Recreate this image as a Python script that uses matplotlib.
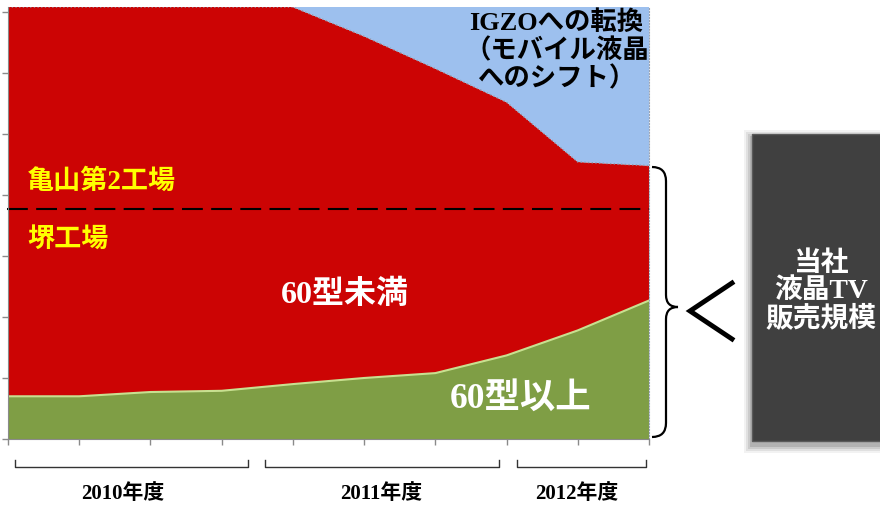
import numpy as np
import matplotlib
matplotlib.use("Agg")
import matplotlib.pyplot as plt
from matplotlib.patches import Rectangle, PathPatch
from matplotlib.path import Path

# stacked area values, one point per quarter (tick)
size_60_plus = [0.70, 0.70, 0.77, 0.79, 0.90, 1.00, 1.08, 1.37, 1.78, 2.27]
tv_total = [7.08, 7.08, 7.08, 7.08, 7.08, 6.60, 6.07, 5.52, 4.54, 4.48]
line_capacity = [7.08] * 10
kameyama_sakai_split = 3.77
fiscal_years = ['2010年度', '2011年度', '2012年度']
fy_spans = [(15, 248), (265, 499), (517, 646)]   # bracket extents (px)
fy_label_x = [123, 381, 577]

jp = ['Liberation Serif', 'Noto Sans CJK JP']

x = np.arange(len(size_60_plus))
under_60 = np.array(tv_total) - np.array(size_60_plus)
igzo = np.array(line_capacity) - np.array(tv_total)

fig = plt.figure(figsize=(8.8, 5.06), dpi=100)
W, H = 880, 506
ax = fig.add_axes([8 / W, (H - 440) / H, 641 / W, 432 / H])

ax.stackplot(x, size_60_plus, under_60, igzo,
             colors=['#7F9E45', '#CC0404', '#9DC0EE'])
ax.plot(x, size_60_plus, color='#C8E090', lw=1.5)
ax.plot(x, tv_total, color='#8C9AB0', lw=1, ls=':')
ax.axhline(kameyama_sakai_split, xmin=-0.002, xmax=1, color='black',
           lw=1.5, ls=(0, (10, 4)), clip_on=False)

ax.set_xlim(0, 9)
ax.set_ylim(0, 7.08)
ax.set_yticks(range(8))
ax.set_xticks(x)
ax.set_yticklabels([])
ax.set_xticklabels([])
ax.tick_params(axis='both', colors='#8A8A8A', length=4, width=1)
ax.spines['top'].set_visible(False)
ax.spines['right'].set_color('#9AA4B5')
ax.spines['right'].set_linestyle(':')
ax.spines['left'].set_color('#8A8A8A')
ax.spines['bottom'].set_color('#8A8A8A')

# labels inside the areas
ax.text(0.27, 4.23, '亀山第2工場', color='#FFFF00', fontsize=19.5,
        fontweight='bold', family=jp, ha='left', va='center')
ax.text(0.27, 3.28, '堺工場', color='#FFFF00', fontsize=19.5,
        fontweight='bold', family=jp, ha='left', va='center')
ax.text(4.73, 2.38, '60型未満', color='white', fontsize=23,
        fontweight='bold', family=jp, ha='center', va='center')
ax.text(7.19, 0.66, '60型以上', color='white', fontsize=25.5,
        fontweight='bold', family=jp, ha='center', va='center')
ax.text(7.7, 6.38, 'IGZOへの転換\n（モバイル液晶\nへのシフト）', color='black',
        fontsize=19, fontweight='bold', family=jp, ha='center', va='center',
        linespacing=1.15)

# overlay in pixel coordinates for the decorations
ov = fig.add_axes([0, 0, 1, 1])
ov.set_xlim(0, W)
ov.set_ylim(H, 0)
ov.axis('off')
ov.patch.set_alpha(0)

# fiscal year brackets
for label, (x0, x1), lx in zip(fiscal_years, fy_spans, fy_label_x):
    ov.plot([x0, x0, x1, x1], [461, 468, 468, 461], color='#333333', lw=1)
    ov.text(lx, 494, label, fontsize=15, fontweight='bold', family=jp,
            ha='center', va='center')

# curly brace
bx, top, bot, mid = 652, 168, 438, 308
codes = [Path.MOVETO, Path.CURVE3, Path.CURVE3, Path.LINETO, Path.CURVE3,
         Path.CURVE3, Path.MOVETO, Path.CURVE3, Path.CURVE3, Path.LINETO,
         Path.CURVE3, Path.CURVE3]
verts = [(bx, top), (bx + 14, top), (bx + 14, top + 14),
         (bx + 14, mid - 12), (bx + 14, mid), (bx + 26, mid),
         (bx + 26, mid), (bx + 14, mid), (bx + 14, mid + 12),
         (bx + 14, bot - 14), (bx + 14, bot), (bx, bot)]
ov.add_patch(PathPatch(Path(verts, codes), fill=False, color='black', lw=1.6))

# "<" sign
ov.plot([732, 690, 732], [284, 312, 340], color='black', lw=3.5,
        solid_joinstyle='miter')

# dark box with soft shadow
for i, a in enumerate([0.05, 0.07, 0.09, 0.12]):
    d = 8 - 2 * i
    ov.add_patch(Rectangle((752 - d, 135 + 4 - d), 140, 307 + 2 * d,
                           color='black', alpha=a, lw=0))
ov.add_patch(Rectangle((752, 135), 140, 307, facecolor='#404040',
                       edgecolor='#5A5A5A', lw=1))
ov.text(821, 292, '当社\n液晶TV\n販売規模', color='white', fontsize=20,
        fontweight='bold', family=jp, ha='center', va='center',
        linespacing=1.05)

fig.savefig('out.png', dpi=100)
